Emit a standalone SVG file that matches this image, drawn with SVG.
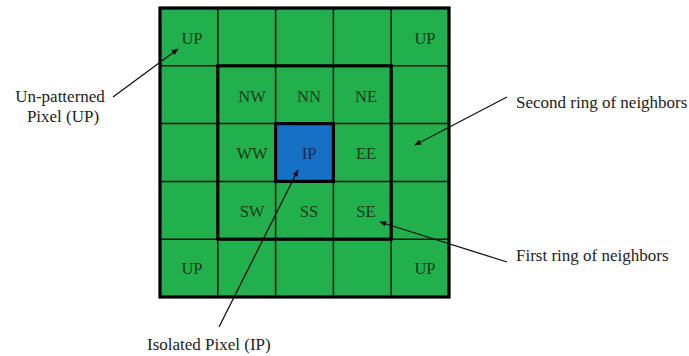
<svg xmlns="http://www.w3.org/2000/svg" width="689" height="356" viewBox="0 0 689 356">
<defs>
<marker id="ah" viewBox="0 0 10 10" refX="9" refY="5" markerWidth="7" markerHeight="7" orient="auto" markerUnits="userSpaceOnUse">
<path d="M0,1 L10,5 L0,9 z" fill="#111"/>
</marker>
<style>
.t{font-family:"Liberation Serif","Times New Roman",serif;font-size:16.5px;fill:#113a1c;text-anchor:middle}
.lbl{font-family:"Liberation Serif","Times New Roman",serif;font-size:17px;fill:#222}
.thick{fill:none;stroke:#000;stroke-width:3.2}
.conn{stroke:#111;stroke-width:1.3;fill:none;marker-end:url(#ah)}
</style>
</defs>
<rect width="689" height="356" fill="#fff"/>
<g id="grid">
<rect x="160" y="8" width="289" height="289" fill="#22b04c"/>
<g stroke="#111" stroke-width="1.5">
<line x1="217.8" y1="8" x2="217.8" y2="297"/>
<line x1="275.6" y1="8" x2="275.6" y2="297"/>
<line x1="333.4" y1="8" x2="333.4" y2="297"/>
<line x1="391.2" y1="8" x2="391.2" y2="297"/>
<line x1="160" y1="65.8" x2="449" y2="65.8"/>
<line x1="160" y1="123.6" x2="449" y2="123.6"/>
<line x1="160" y1="181.4" x2="449" y2="181.4"/>
<line x1="160" y1="239.2" x2="449" y2="239.2"/>
</g>
<rect class="thick" x="160" y="8" width="289" height="289" stroke-width="3.8"/>
<rect class="thick" x="217.8" y="65.8" width="173.4" height="173.4"/>
</g>
<g id="node-IP">
<rect x="275.6" y="123.6" width="57.8" height="57.8" fill="#1670c6" stroke="#000" stroke-width="3.2"/>
<text class="t" x="309" y="159" style="fill:#0f2c5a">IP</text>
</g>
<g id="node-UP-tl"><text class="t" x="192" y="44">UP</text></g>
<g id="node-UP-tr"><text class="t" x="425" y="44">UP</text></g>
<g id="node-UP-bl"><text class="t" x="192" y="274">UP</text></g>
<g id="node-UP-br"><text class="t" x="425" y="274">UP</text></g>
<g id="node-NW"><text class="t" x="252" y="102">NW</text></g>
<g id="node-NN"><text class="t" x="309" y="102">NN</text></g>
<g id="node-NE"><text class="t" x="366" y="102">NE</text></g>
<g id="node-WW"><text class="t" x="252" y="159">WW</text></g>
<g id="node-EE"><text class="t" x="366" y="159">EE</text></g>
<g id="node-SW"><text class="t" x="252" y="217">SW</text></g>
<g id="node-SS"><text class="t" x="309" y="217">SS</text></g>
<g id="node-SE"><text class="t" x="366" y="217">SE</text></g>
<g id="labels">
<text class="lbl" x="60" y="102" text-anchor="middle">Un-patterned</text>
<text class="lbl" x="63" y="122" text-anchor="middle">Pixel (UP)</text>
<text class="lbl" x="516" y="108">Second ring of neighbors</text>
<text class="lbl" x="516" y="261">First ring of neighbors</text>
<text class="lbl" x="147" y="350">Isolated Pixel (IP)</text>
</g>
<g id="connectors">
<line class="conn" x1="113" y1="97" x2="178" y2="49"/>
<line class="conn" x1="507" y1="97" x2="415" y2="145"/>
<line class="conn" x1="507" y1="262" x2="380" y2="222"/>
<line class="conn" x1="219" y1="327" x2="298" y2="170"/>
</g>
</svg>
